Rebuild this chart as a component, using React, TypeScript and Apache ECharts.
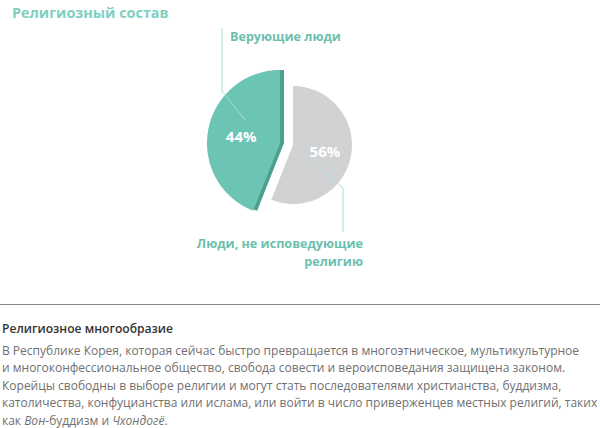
import React, { useEffect, useRef } from "react";
import * as echarts from "echarts";

const chartTitle = "Религиозный состав";
const categories = ["Верующие люди", "Люди, не исповедующие религию"];
const shares = [44, 56];
const sectionHeading = "Религиозное многообразие";
const bodyLines = [
  "В Республике Корея, которая сейчас быстро превращается в многоэтническое, мультикультурное",
  "и многоконфессиональное общество, свобода совести и вероисповедания защищена законом.",
  "Корейцы свободны в выборе религии и могут стать последователями христианства, буддизма,",
  "католичества, конфуцианства или ислама, или войти в число приверженцев местных религий, таких",
];
const lastLineParts = [
  { t: "как ", italic: false },
  { t: "Вон", italic: true },
  { t: "-буддизм и ", italic: false },
  { t: "Чхондогё", italic: true },
  { t: ".", italic: false },
];

const GREEN = "#6cc4b4";
const GREEN_DARK = "#4f9f90";
const GREY = "#d1d2d4";
const TEAL_TEXT = "#6cbfae";
const LINE = "#a9ddd3";
const FONT = "'Open Sans', 'Noto Sans', sans-serif";

export default function App() {
  const ref = useRef<HTMLDivElement>(null);
  useEffect(() => {
    if (!ref.current) return;
    const chart = echarts.init(ref.current, null, { renderer: "svg" });
    const hidden = { color: "rgba(0,0,0,0)" };
    const pctLabel = {
      show: true,
      position: "inside",
      formatter: "{c}%",
      color: "#ffffff",
      fontSize: 15,
      fontWeight: "bold",
      fontFamily: FONT,
    };
    const common = {
      type: "pie",
      startAngle: 90,
      clockwise: false,
      silent: true,
      avoidLabelOverlap: false,
      labelLine: { show: false },
      emphasis: { disabled: true },
    };
    const option: any = {
      animation: false,
      backgroundColor: "#ffffff",
      series: [
        {
          ...common,
          z: 1,
          center: [284, 143],
          radius: 73,
          label: { show: false },
          data: [
            { name: categories[0], value: shares[0], itemStyle: { color: GREEN_DARK } },
            { name: categories[1], value: shares[1], itemStyle: hidden },
          ],
        },
        {
          ...common,
          z: 2,
          center: [280, 143],
          radius: 73,
          data: [
            { name: categories[0], value: shares[0], itemStyle: { color: GREEN }, label: pctLabel },
            { name: categories[1], value: shares[1], itemStyle: hidden, label: { show: false } },
          ],
        },
        {
          ...common,
          z: 2,
          center: [293, 145],
          radius: 59,
          data: [
            { name: categories[0], value: shares[0], itemStyle: hidden, label: { show: false } },
            { name: categories[1], value: shares[1], itemStyle: { color: GREY }, label: pctLabel },
          ],
        },
      ],
      graphic: [
        {
          type: "text",
          x: 12,
          y: 12,
          style: {
            text: chartTitle,
            fill: "#7fcfc1",
            font: `bold 14.4px ${FONT}`,
            textVerticalAlign: "middle",
          },
        },
        {
          type: "polyline",
          shape: { points: [[222, 28], [222, 91], [245, 120]] },
          style: { stroke: LINE, lineWidth: 1, fill: null },
          z: 10,
        },
        {
          type: "polyline",
          shape: { points: [[318, 166], [343, 188], [343, 232]] },
          style: { stroke: LINE, lineWidth: 1, fill: null },
          z: 10,
        },
        {
          type: "text",
          x: 230,
          y: 36,
          style: {
            text: categories[0],
            fill: TEAL_TEXT,
            font: `bold 12.6px ${FONT}`,
            textAlign: "left",
            textVerticalAlign: "middle",
          },
        },
        {
          type: "text",
          x: 363,
          y: 243,
          style: {
            text: "Люди, не исповедующие",
            fill: TEAL_TEXT,
            font: `bold 12.6px ${FONT}`,
            textAlign: "right",
            textVerticalAlign: "middle",
          },
        },
        {
          type: "text",
          x: 363,
          y: 261,
          style: {
            text: "религию",
            fill: TEAL_TEXT,
            font: `bold 12.6px ${FONT}`,
            textAlign: "right",
            textVerticalAlign: "middle",
          },
        },
        {
          type: "line",
          shape: { x1: 0, y1: 304.5, x2: 600, y2: 304.5 },
          style: { stroke: "#8a8a8a", lineWidth: 1 },
        },
        {
          type: "text",
          x: 2,
          y: 328,
          style: {
            text: sectionHeading,
            fill: "#333333",
            font: `600 12.1px ${FONT}`,
            textVerticalAlign: "middle",
          },
        },
        ...bodyLines.map((t, i) => ({
          type: "text",
          x: 2,
          y: 350 + i * 17.6,
          style: {
            text: t,
            fill: "#707070",
            font: `12px ${FONT}`,
            textVerticalAlign: "middle",
          },
        })),
        {
          type: "text",
          x: 2,
          y: 350 + 4 * 17.6,
          style: {
            text: lastLineParts
              .map((p) => `{${p.italic ? "i" : "n"}|${p.t}}`)
              .join(""),
            textVerticalAlign: "middle",
            rich: {
              n: { fill: "#707070", fontSize: 12, fontFamily: FONT, lineHeight: 13 },
              i: { fill: "#707070", fontSize: 12, fontFamily: FONT, fontStyle: "italic", lineHeight: 13 },
            },
          },
        },
      ],
    };
    chart.setOption(option);
    return () => chart.dispose();
  }, []);
  return (
    <div
      ref={ref}
      style={{ position: "absolute", left: 0, top: 0, width: 600, height: 428 }}
    />
  );
}
